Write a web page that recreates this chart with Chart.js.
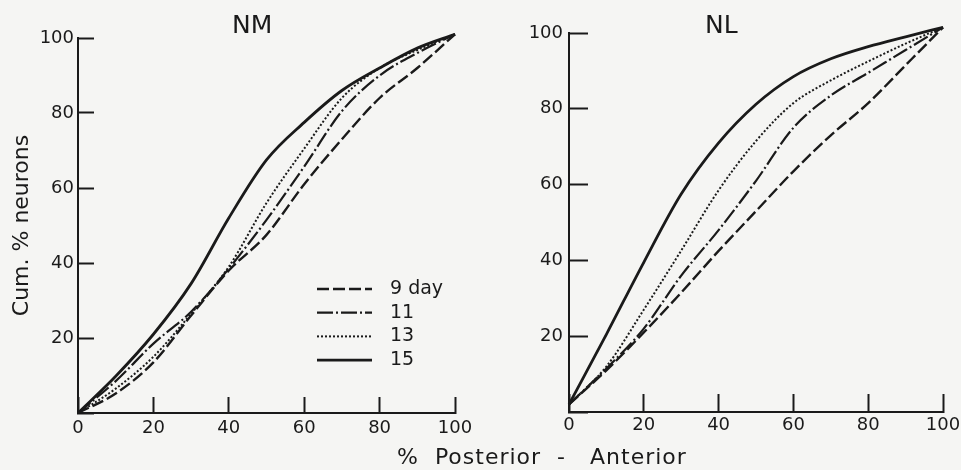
<!DOCTYPE html>
<html><head><meta charset="utf-8">
<script src="https://cdn.jsdelivr.net/npm/chart.js@4.4.1/dist/chart.umd.min.js"></script>
<style>
html,body{margin:0;padding:0;background:#f5f5f3;}
#wrap{position:relative;width:961px;height:470px;overflow:hidden;background:#f5f5f3;}
canvas{position:absolute;top:0;}
.t{position:absolute;font-family:"DejaVu Sans";color:#1a1a1a;white-space:pre;line-height:1;}
</style></head><body>
<div id="wrap">
<canvas id="nm" style="left:0px" width="480" height="470"></canvas>
<canvas id="nl" style="left:480px" width="481" height="470"></canvas>
<div class="t" style="left:232px;top:12px;font-size:25px">NM</div>
<div class="t" style="left:705px;top:12px;font-size:25px">NL</div>
<div class="t" style="left:397px;top:446px;font-size:22px;letter-spacing:1px">%  Posterior  -   Anterior</div>
</div>
<script>
// ---- data ----
const xPct = [0, 10, 20, 30, 40, 50, 60, 70, 80, 90, 100];
const seriesLabels = ['9 day', '11', '13', '15'];
const yTicks = [0, 20, 40, 60, 80, 100];

// NM panel
const nm9  = [0, 5.2, 13.5, 26, 38, 47.5, 61, 73, 84, 92, 101];
const nm11 = [0, 8.5, 18.5, 27, 38.5, 51.5, 65.7, 80.5, 90, 96, 101];
const nm13 = [0, 6.5, 15, 26.5, 39, 56, 70.5, 84, 92, 96.8, 101];
const nm15 = [0, 9.8, 21, 34.5, 52, 67.5, 77.5, 86, 92, 97.3, 101];

// NL panel
const nl9  = [2, 11, 21, 31.5, 42.5, 53, 63.5, 73, 81.5, 91.5, 101.5];
const nl11 = [2, 11.5, 22, 36, 48, 61, 75, 83.5, 89.5, 95.5, 101.5];
const nl13 = [2, 12, 27, 42.6, 58.5, 71.5, 81.5, 87.5, 92.5, 97.2, 101.5];
const nl15 = [2, 20.5, 39.5, 57.5, 71, 81.2, 88.5, 93.2, 96.4, 99, 101.5];

const INK = '#1a1a1a';
const styles = [
  {borderDash: [12, 4], borderWidth: 2.4},
  {borderDash: [16, 3, 2, 3], borderWidth: 2.2},
  {borderDash: [2, 2], borderWidth: 2},
  {borderDash: [], borderWidth: 2.8}
];

function makeDatasets(arrs) {
  return arrs.map((arr, i) => ({
    label: seriesLabels[i],
    data: xPct.map((x, j) => ({x: x, y: arr[j]})),
    borderColor: INK,
    backgroundColor: INK,
    borderWidth: styles[i].borderWidth,
    borderDash: styles[i].borderDash,
    pointRadius: 0,
    fill: false,
    cubicInterpolationMode: 'monotone',
    clip: false
  }));
}

const lineLegend = {
  id: 'lineLegend',
  afterDatasetsDraw(chart, args, opts) {
    if (!opts || !opts.show) return;
    const ctx = chart.ctx;
    ctx.save();
    chart.data.datasets.forEach((ds, i) => {
      const y = opts.y0 + i * opts.dy;
      ctx.beginPath();
      ctx.setLineDash(ds.borderDash || []);
      ctx.lineWidth = ds.borderWidth;
      ctx.strokeStyle = INK;
      ctx.moveTo(opts.x0, y);
      ctx.lineTo(opts.x1, y);
      ctx.stroke();
      ctx.setLineDash([]);
      ctx.fillStyle = INK;
      ctx.font = '19px "DejaVu Sans"';
      ctx.textBaseline = 'middle';
      ctx.textAlign = 'left';
      ctx.fillText(ds.label, opts.tx, y);
    });
    ctx.restore();
  }
};

function zeroPad(s) { s.paddingLeft = 0; s.paddingRight = 0; s.paddingTop = 0; s.paddingBottom = 0; }

function makeChart(id, arrs, cfg) {
  return new Chart(document.getElementById(id), {
    type: 'line',
    data: {datasets: makeDatasets(arrs)},
    plugins: [lineLegend],
    options: {
      responsive: false,
      animation: false,
      devicePixelRatio: 1,
      layout: {padding: {top: cfg.top, right: cfg.right, left: 0, bottom: 0}},
      plugins: {
        legend: {display: false},
        tooltip: {enabled: false},
        lineLegend: cfg.legend
      },
      scales: {
        x: {
          type: 'linear', min: 0, max: 100,
          afterBuildTicks: s => { s.ticks = yTicks.map(v => ({value: v})); },
          ticks: {color: INK, font: {family: 'DejaVu Sans', size: 18}, padding: 21, maxRotation: 0, autoSkip: false},
          grid: {display: true, drawOnChartArea: false, drawTicks: true, tickLength: -cfg.xTick, tickWidth: 2, tickColor: INK},
          border: {display: true, color: INK, width: 2},
          afterFit: s => { s.height = cfg.xH; zeroPad(s); }
        },
        y: {
          type: 'linear', min: 0, max: 100, position: 'left',
          afterBuildTicks: s => { s.ticks = yTicks.map(v => ({value: v})); },
          ticks: {color: INK, font: {family: 'DejaVu Sans', size: 18}, padding: cfg.yPad,
                  callback: v => v === 0 ? '' : String(v)},
          grid: {display: true, drawOnChartArea: false, drawTicks: true, tickLength: -cfg.yTick, tickWidth: 2, tickColor: INK},
          border: {display: true, color: INK, width: 2},
          title: {display: cfg.yTitle, text: 'Cum. % neurons', color: INK,
                  font: {family: 'DejaVu Sans', size: 22}, padding: {top: 9, bottom: 0}},
          afterFit: s => { s.width = cfg.yW; zeroPad(s); }
        }
      }
    }
  });
}

makeChart('nm', [nm9, nm11, nm13, nm15], {
  top: 38, right: 25, xH: 57, yW: 78, xTick: 16, yTick: 16, yPad: 20, yTitle: true,
  legend: {show: true, x0: 317, x1: 372, tx: 390, y0: 289, dy: 23.7}
});
makeChart('nl', [nl9, nl11, nl13, nl15], {
  top: 33, right: 18, xH: 58, yW: 89, xTick: 18, yTick: 19, yPad: 25, yTitle: false,
  legend: {show: false}
});
</script>
</body></html>
